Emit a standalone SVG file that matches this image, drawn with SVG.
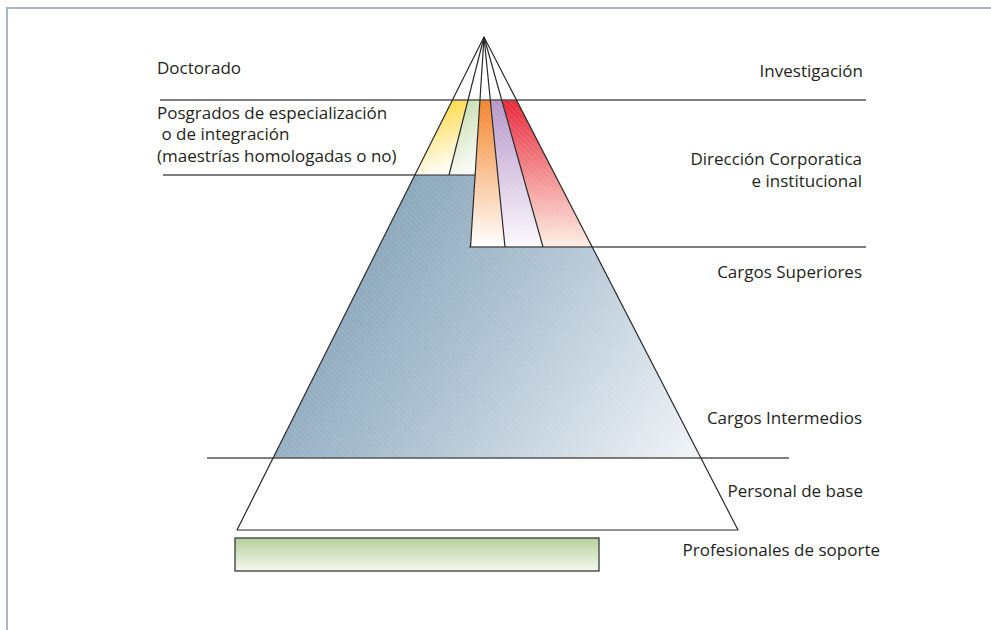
<svg xmlns="http://www.w3.org/2000/svg" width="991" height="630" viewBox="0 0 991 630">
<style>
  text { font-family: "Open Sans", "Noto Sans", "DejaVu Sans", sans-serif; font-size: 17px; fill: #231f20; }
  .r { text-anchor: end; }
  .h { stroke: #555; stroke-width: 1.6; fill: none; }
  .e { stroke: #2a2a2a; stroke-width: 1.2; fill: none; stroke-linejoin: round; }
</style>
<defs>
  <linearGradient id="gY" x1="0" y1="0" x2="0.3" y2="1"><stop offset="0" stop-color="#ffd21f"/><stop offset="1" stop-color="#fffdf5"/></linearGradient>
  <linearGradient id="gG" x1="0" y1="0" x2="0.3" y2="1"><stop offset="0" stop-color="#c2d9a6"/><stop offset="1" stop-color="#f7faf3"/></linearGradient>
  <linearGradient id="gO" x1="0" y1="0" x2="0" y2="1"><stop offset="0" stop-color="#f4842a"/><stop offset="1" stop-color="#ffffff"/></linearGradient>
  <linearGradient id="gP" x1="0" y1="0" x2="0" y2="1"><stop offset="0" stop-color="#b696c8"/><stop offset="1" stop-color="#fbf9fd"/></linearGradient>
  <linearGradient id="gR" x1="0" y1="0" x2="0" y2="1"><stop offset="0" stop-color="#e8283a"/><stop offset="1" stop-color="#fdf0e4"/></linearGradient>
  <linearGradient id="gB" gradientUnits="userSpaceOnUse" x1="330" y1="210" x2="700" y2="470"><stop offset="0" stop-color="#7f9fb5"/><stop offset="0.45" stop-color="#aec2d1"/><stop offset="1" stop-color="#f3f6f9"/></linearGradient>
  <linearGradient id="gV" x1="0" y1="0" x2="0" y2="1"><stop offset="0" stop-color="#b6d09a"/><stop offset="1" stop-color="#f5f8f1"/></linearGradient>
  <pattern id="hatch" width="4" height="4" patternUnits="userSpaceOnUse" patternTransform="rotate(-45)">
    <line x1="0" y1="0" x2="0" y2="4" stroke="#ffffff" stroke-width="1" stroke-opacity="0.22"/>
  </pattern>
</defs>

<g id="frame">
  <polyline points="7,630 7,8 991,8" fill="none" stroke="#a3b8c8" stroke-width="2"/>
</g>

<g id="band-yellow">
  <polygon points="452.5,100 468,100 449,175 415,175" fill="url(#gY)"/>
  <polygon points="452.5,100 468,100 449,175 415,175" fill="url(#hatch)"/>
</g>
<g id="band-green">
  <polygon points="468,100 480,100 475,175 449,175" fill="url(#gG)"/>
  <polygon points="468,100 480,100 475,175 449,175" fill="url(#hatch)"/>
</g>
<g id="band-orange">
  <polygon points="480,100 490.5,100 505,247 470.5,247" fill="url(#gO)"/>
  <polygon points="480,100 490.5,100 505,247 470.5,247" fill="url(#hatch)"/>
</g>
<g id="band-purple">
  <polygon points="490.5,100 502,100 543,247 505,247" fill="url(#gP)"/>
  <polygon points="490.5,100 502,100 543,247 505,247" fill="url(#hatch)"/>
</g>
<g id="band-red">
  <polygon points="502,100 516.5,100 592,247 543,247" fill="url(#gR)"/>
  <polygon points="502,100 516.5,100 592,247 543,247" fill="url(#hatch)"/>
</g>
<g id="band-blue">
  <polygon points="415,175 475,175 470.5,247 592,247 701,458 273.5,458" fill="url(#gB)"/>
  <polygon points="415,175 475,175 470.5,247 592,247 701,458 273.5,458" fill="url(#hatch)"/>
</g>
<g id="support-bar">
  <rect x="235" y="538" width="364" height="33" fill="url(#gV)" stroke="#3a3a3a" stroke-width="1.3"/>
</g>

<g id="connectors">
  <line class="h" x1="160" y1="100" x2="866" y2="100"/>
  <line class="h" x1="163" y1="175" x2="415" y2="175"/>
  <line class="h" x1="469" y1="247" x2="866" y2="247"/>
  <line class="h" x1="207" y1="458" x2="789" y2="458"/>
  <polygon class="e" points="484,37 237,530 738,530"/>
  <line class="e" x1="484" y1="37" x2="449" y2="175"/>
  <line class="e" x1="484" y1="37" x2="470.5" y2="247"/>
  <line class="e" x1="484" y1="37" x2="505" y2="247"/>
  <line class="e" x1="484" y1="37" x2="543" y2="247"/>
  <line class="e" x1="415" y1="175" x2="475" y2="175"/>
</g>

<g id="labels-left">
  <text x="157" y="74">Doctorado</text>
  <text x="157" y="119">Posgrados de especialización</text>
  <text x="157" y="140" xml:space="preserve"> o de integración</text>
  <text x="157" y="162">(maestrías homologadas o no)</text>
</g>
<g id="labels-right">
  <text class="r" x="863" y="77">Investigación</text>
  <text class="r" x="862" y="165">Dirección Corporatica</text>
  <text class="r" x="862" y="187">e institucional</text>
  <text class="r" x="862" y="278">Cargos Superiores</text>
  <text class="r" x="862" y="424">Cargos Intermedios</text>
  <text class="r" x="863" y="497">Personal de base</text>
  <text class="r" x="880" y="556">Profesionales de soporte</text>
</g>
</svg>
